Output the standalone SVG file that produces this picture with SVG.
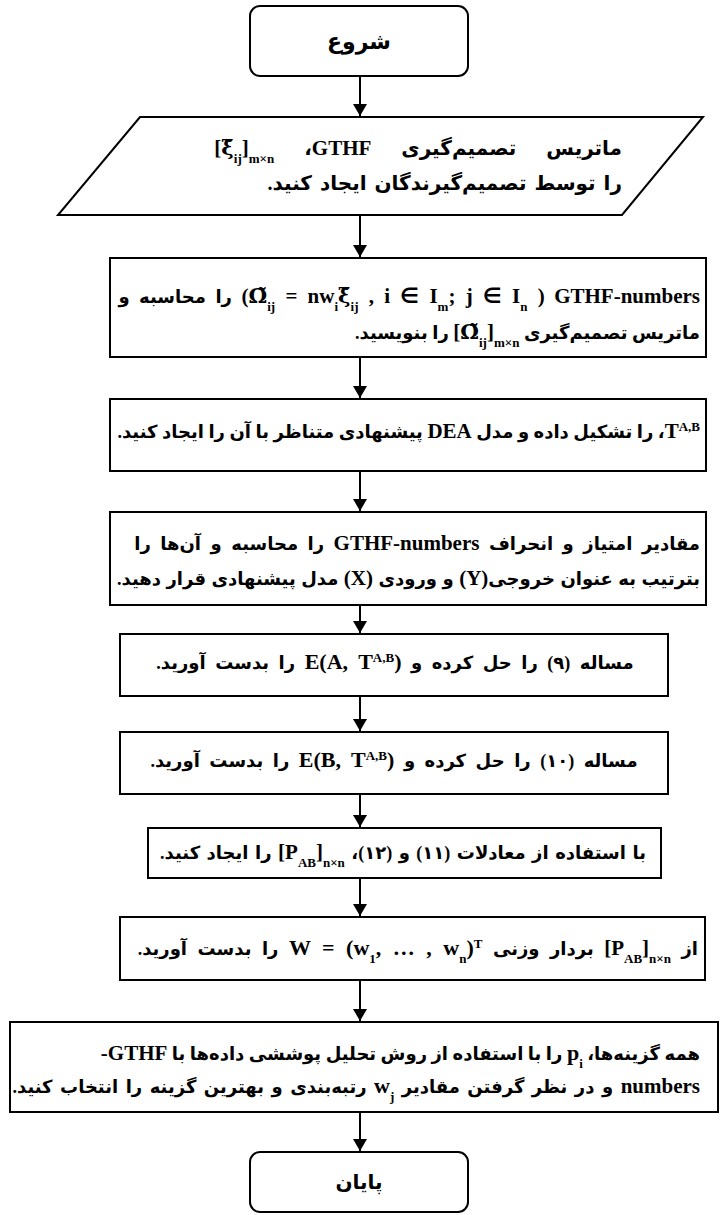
<svg xmlns="http://www.w3.org/2000/svg" width="720" height="1215" viewBox="0 0 720 1215">
<defs>
<marker id="ah" viewBox="0 0 12 14" refX="12" refY="7" markerWidth="12" markerHeight="14" markerUnits="userSpaceOnUse" orient="auto">
<path d="M0,0 L12,7 L0,14 Z" fill="#000"/>
</marker>
<style>
.shape{fill:#fff;stroke:#000;stroke-width:2}
.t{font-family:'Liberation Serif','DejaVu Sans',serif;font-size:18px;font-weight:bold;fill:#000;direction:rtl;text-anchor:middle}
.r{text-anchor:start}
.fa{font-family:'DejaVu Sans',sans-serif;font-size:20px;font-weight:bold;fill:#000;direction:rtl;text-anchor:middle}
.m{font-size:21px}
.mm{font-size:22px}
.sub{font-size:13px}
.g{font-family:'DejaVu Serif',serif}
.conn{stroke:#000;stroke-width:2;fill:none;marker-end:url(#ah)}
</style>
</defs>
<rect width="720" height="1215" fill="#fff"/>
<g id="connectors">
<line class="conn" x1="360" y1="76" x2="360" y2="116"/>
<line class="conn" x1="360" y1="215" x2="360" y2="257"/>
<line class="conn" x1="360" y1="357" x2="360" y2="398"/>
<line class="conn" x1="360" y1="471" x2="360" y2="511"/>
<line class="conn" x1="360" y1="605" x2="360" y2="633"/>
<line class="conn" x1="360" y1="696" x2="360" y2="731"/>
<line class="conn" x1="360" y1="794" x2="360" y2="827"/>
<line class="conn" x1="360" y1="878" x2="360" y2="916"/>
<line class="conn" x1="360" y1="980" x2="360" y2="1021"/>
<line class="conn" x1="360" y1="1112" x2="360" y2="1151"/>
</g>
<g id="start">
<rect class="shape" x="250" y="6" width="218" height="70" rx="10"/>
<text class="fa" x="359" y="49" style="font-size:22px">شروع</text>
</g>
<g id="input">
<polygon class="shape" points="140,117 703,117 622,215 58,215"/>
<text class="t r" x="622" y="155" style="font-size:20px" word-spacing="25">ماتریس تصمیم‌گیری <tspan class="m">GTHF</tspan>، &#x2066;<tspan class="m">[<tspan class="g">ξ̃</tspan><tspan class="sub" baseline-shift="sub">ij</tspan>]<tspan class="sub" baseline-shift="sub">m×n</tspan></tspan></text>
<text class="t r" x="622" y="190" style="font-size:20px" word-spacing="3">را توسط تصمیم‌گیرندگان ایجاد کنید.</text>
</g>
<g id="step1">
<rect class="shape" x="110" y="258" width="596" height="99"/>
<text class="t r" x="700" y="303" word-spacing="5"><tspan class="m">GTHF-numbers</tspan> &#x2066;<tspan class="m">(<tspan class="g">Ω̃</tspan><tspan class="sub" baseline-shift="sub">ij</tspan> = nw<tspan class="sub" baseline-shift="sub">i</tspan><tspan class="g">ξ̃</tspan><tspan class="sub" baseline-shift="sub">ij</tspan>   , i ∈ I<tspan class="sub" baseline-shift="sub">m</tspan>; j ∈ I<tspan class="sub" baseline-shift="sub">n</tspan> )</tspan>&#x2069; را محاسبه و</text>
<text class="t r" x="700" y="339">ماتریس تصمیم‌گیری &#x2066;<tspan class="m">[<tspan class="g">Ω̃</tspan><tspan class="sub" baseline-shift="sub">ij</tspan>]<tspan class="sub" baseline-shift="sub">m×n</tspan></tspan>&#x2069; را بنویسید.</text>
</g>
<g id="step2">
<rect class="shape" x="110" y="399" width="596" height="72"/>
<text class="t r" x="700" y="438"><tspan class="m">T</tspan><tspan class="sub" baseline-shift="super">A,B</tspan>، را تشکیل داده و مدل <tspan class="m">DEA</tspan> پیشنهادی متناظر با آن را ایجاد کنید.</text>
</g>
<g id="step3">
<rect class="shape" x="110" y="512" width="596" height="93"/>
<text class="t r" x="700" y="550" word-spacing="5">مقادیر امتیاز و انحراف <tspan class="m">GTHF-numbers</tspan> را محاسبه و آن‌ها را</text>
<text class="t r" x="700" y="585" word-spacing="1">بترتیب به عنوان خروجی<tspan class="m">(Y)</tspan> و ورودی <tspan class="m">(X)</tspan> مدل پیشنهادی قرار دهید.</text>
</g>
<g id="step4">
<rect class="shape" x="120" y="634" width="548" height="62"/>
<text class="t" x="395" y="669" word-spacing="5">مساله (۹) را حل کرده و &#x2066;<tspan class="mm">E(A, T<tspan class="sub" baseline-shift="super">A,B</tspan>)</tspan>&#x2069; را بدست آورید.</text>
</g>
<g id="step5">
<rect class="shape" x="120" y="732" width="548" height="62"/>
<text class="t" x="394" y="767" word-spacing="5">مساله (۱۰) را حل کرده و &#x2066;<tspan class="mm">E(B, T<tspan class="sub" baseline-shift="super">A,B</tspan>)</tspan>&#x2069; را بدست آورید.</text>
</g>
<g id="step6">
<rect class="shape" x="148" y="828" width="513" height="50"/>
<text class="t" x="403" y="859" word-spacing="2">با استفاده از معادلات (۱۱) و (۱۲)، &#x2066;<tspan class="m">[P<tspan class="sub" baseline-shift="sub">AB</tspan>]<tspan class="sub" baseline-shift="sub">n×n</tspan></tspan>&#x2069;  را ایجاد کنید.</text>
</g>
<g id="step7">
<rect class="shape" x="120" y="917" width="585" height="63"/>
<text class="t r" x="698" y="955" word-spacing="6">از &#x2066;<tspan class="m">[P<tspan class="sub" baseline-shift="sub">AB</tspan>]<tspan class="sub" baseline-shift="sub">n×n</tspan></tspan>&#x2069; بردار وزنی &#x2066;<tspan class="mm">W = (w<tspan class="sub" baseline-shift="sub">1</tspan>, … , w<tspan class="sub" baseline-shift="sub">n</tspan>)<tspan class="sub" baseline-shift="super">T</tspan></tspan>&#x2069;  را بدست آورید.</text>
</g>
<g id="step8">
<rect class="shape" x="10" y="1022" width="708" height="90"/>
<text class="t r" x="700" y="1060">همه گزینه‌ها، &#x2066;<tspan class="mm">p<tspan class="sub" baseline-shift="sub">i</tspan></tspan>&#x2069;  را با استفاده از روش تحلیل پوششی داده‌ها با <tspan class="m">GTHF-</tspan></text>
<text class="t r" x="700" y="1093" word-spacing="3"><tspan class="m">numbers</tspan> و در نظر گرفتن مقادیر  &#x2066;<tspan class="mm">w<tspan class="sub" baseline-shift="sub">j</tspan></tspan>&#x2069; رتبه‌بندی و بهترین گزینه را انتخاب کنید.</text>
</g>
<g id="end">
<rect class="shape" x="250" y="1152" width="218" height="60" rx="10"/>
<text class="fa" x="359" y="1189">پایان</text>
</g>
</svg>
